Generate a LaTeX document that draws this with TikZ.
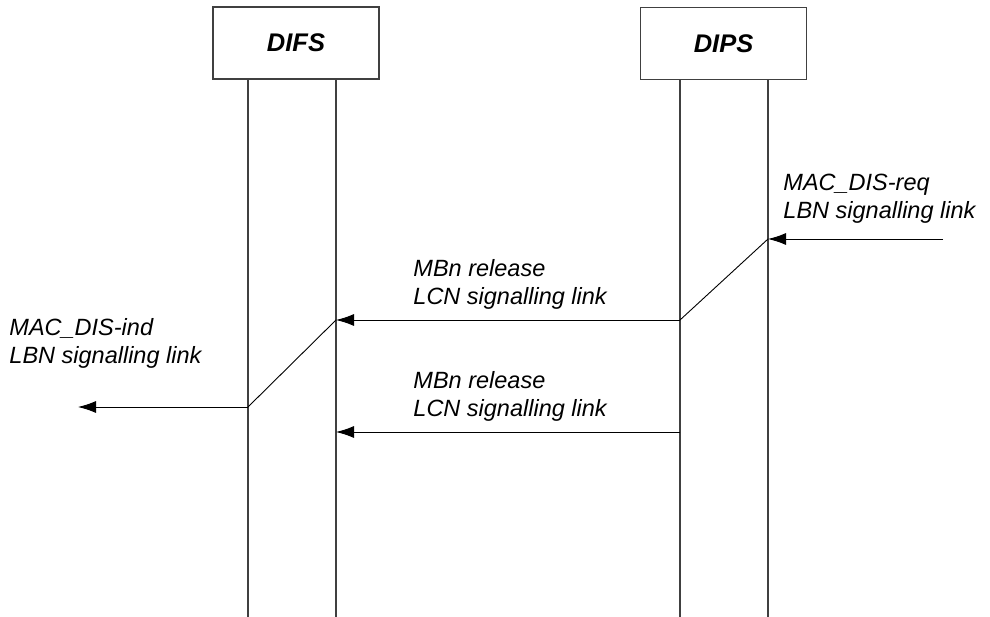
\documentclass[tikz,border=0pt]{standalone}
\usepackage{fontspec}
\setmainfont{Liberation Sans}
\usetikzlibrary{arrows.meta}

\begin{document}
\begin{tikzpicture}
  [x=1pt,y=-1pt,>={Latex[length=18pt,width=12pt]},line width=0.9pt,
  entity/.style={draw=darkgray,line width=1.2pt,inner sep=0pt,minimum width=166pt,
    minimum height=72pt,font=\fontsize{25.5}{30}\selectfont\bfseries\itshape},
  msg/.style={align=left,anchor=west,inner sep=0pt,font=\fontsize{23.5}{28}\selectfont\itshape},
  life/.style={draw=darkgray,line width=1.2pt}]
  \useasboundingbox (0,0) rectangle (990,617);

  \node[entity] (difs) at (296,43) {DIFS};
  \node[entity] (dips) at (723.5,43.5) {DIPS};

  % lifelines
  \foreach \x/\name in {248/difsA,336/difsB,680/dipsA,768/dipsB}{
    \coordinate (\name top) at (\x,79.5);
    \coordinate (\name end) at (\x,617);
    \draw[life] (\name top) -- (\name end);
  }

  % events
  \coordinate (reqin) at (943,239);
  \coordinate (dipsB1) at (768,239);
  \coordinate (dipsA1) at (680,320);
  \coordinate (difsB1) at (336,320);
  \coordinate (difsA1) at (248,407);
  \coordinate (indout) at (78,407);
  \coordinate (dipsA2) at (680,432);
  \coordinate (difsB2) at (336,432);

  \node[msg] (req) at (783,199) {MAC\_DIS-req\\LBN signalling link};
  \node[msg] (rel1) at (413,284) {MBn release\\LCN signalling link};
  \node[msg] (ind) at (9,343) {MAC\_DIS-ind\\LBN signalling link};
  \node[msg] (rel2) at (413,396) {MBn release\\LCN signalling link};

  \draw[->] (reqin) -- (dipsB1);
  \draw (dipsB1) -- (dipsA1);
  \draw[->] (dipsA1) -- (difsB1);
  \draw (difsB1) -- (difsA1);
  \draw[->] (difsA1) -- (indout);
  \draw[->] (dipsA2) -- (difsB2);

\end{tikzpicture}
\end{document}
